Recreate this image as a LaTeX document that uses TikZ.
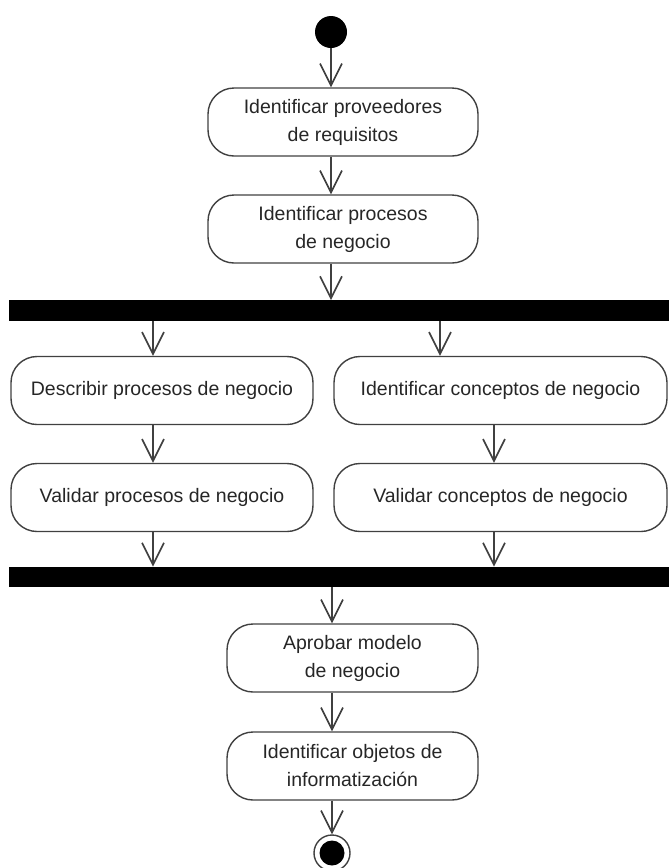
\documentclass[tikz,border=0pt]{standalone}
\usepackage{fontspec}
\setmainfont{Liberation Sans}
\usepackage{tikz}
\usetikzlibrary{arrows.meta,positioning,calc}

\begin{document}
\begin{tikzpicture}[
  x=1pt, y=-1pt,
  act/.style={draw=black!75, line width=1.4pt, rounded corners=26pt,
              minimum height=68pt, align=center, text=black!85, inner sep=0pt,
              font=\fontsize{19.5}{28}\selectfont},
  bar/.style={fill=black, inner sep=0pt, minimum width=660pt, minimum height=20.5pt},
  dot/.style={circle, fill=black, inner sep=0pt},
  flow/.style={-{Straight Barb[length=22pt, width=22pt, line width=1.6pt]},
               line width=1.6pt, black!75}
]
  \useasboundingbox (0,0) rectangle (669,868);

  \node[dot, minimum size=32pt] (start) at (331,32) {};
  \node[act, minimum width=270pt] (prov) at (343,122) {Identificar proveedores\\de requisitos};
  \node[act, minimum width=270pt] (proc) at (343,229) {Identificar procesos\\de negocio};
  \node[bar] (fork) at (339,310.5) {};
  \node[act, minimum width=302pt] (desc) at (162,390.5) {Describir procesos de negocio};
  \node[act, minimum width=333pt] (conc) at (500.5,390.5) {Identificar conceptos de negocio};
  \node[act, minimum width=302pt] (valp) at (162,497.5) {Validar procesos de negocio};
  \node[act, minimum width=333pt] (valc) at (500.5,497.5) {Validar conceptos de negocio};
  \node[bar] (join) at (339,577) {};
  \node[act, minimum width=251pt] (apro) at (352.5,658) {Aprobar modelo\\de negocio};
  \node[act, minimum width=251pt] (objs) at (352.5,766) {Identificar objetos de\\informatización};
  \node[circle, draw=black!75, line width=1.4pt, minimum size=36pt, inner sep=0pt] (end) at (332,853) {};
  \node[dot, minimum size=25pt] (endin) at (end) {};

  \coordinate (laneL) at (153,0);
  \coordinate (laneR) at (440,0);
  \coordinate (laneRR) at (494,0);

  \draw[flow] (start) -- (prov.north -| start);
  \draw[flow] (prov.south -| start) -- (proc.north -| start);
  \draw[flow] (proc.south -| start) -- (fork.north -| start);
  \draw[flow] (fork.south -| laneL) -- (desc.north -| laneL);
  \draw[flow] (fork.south -| laneR) -- (conc.north -| laneR);
  \draw[flow] (desc.south -| laneL) -- (valp.north -| laneL);
  \draw[flow] (conc.south -| laneRR) -- (valc.north -| laneRR);
  \draw[flow] (valp.south -| laneL) -- (join.north -| laneL);
  \draw[flow] (valc.south -| laneRR) -- (join.north -| laneRR);
  \draw[flow] (join.south -| end) -- (apro.north -| end);
  \draw[flow] (apro.south -| end) -- (objs.north -| end);
  \draw[flow] (objs.south -| end) -- (end);
\end{tikzpicture}
\end{document}
